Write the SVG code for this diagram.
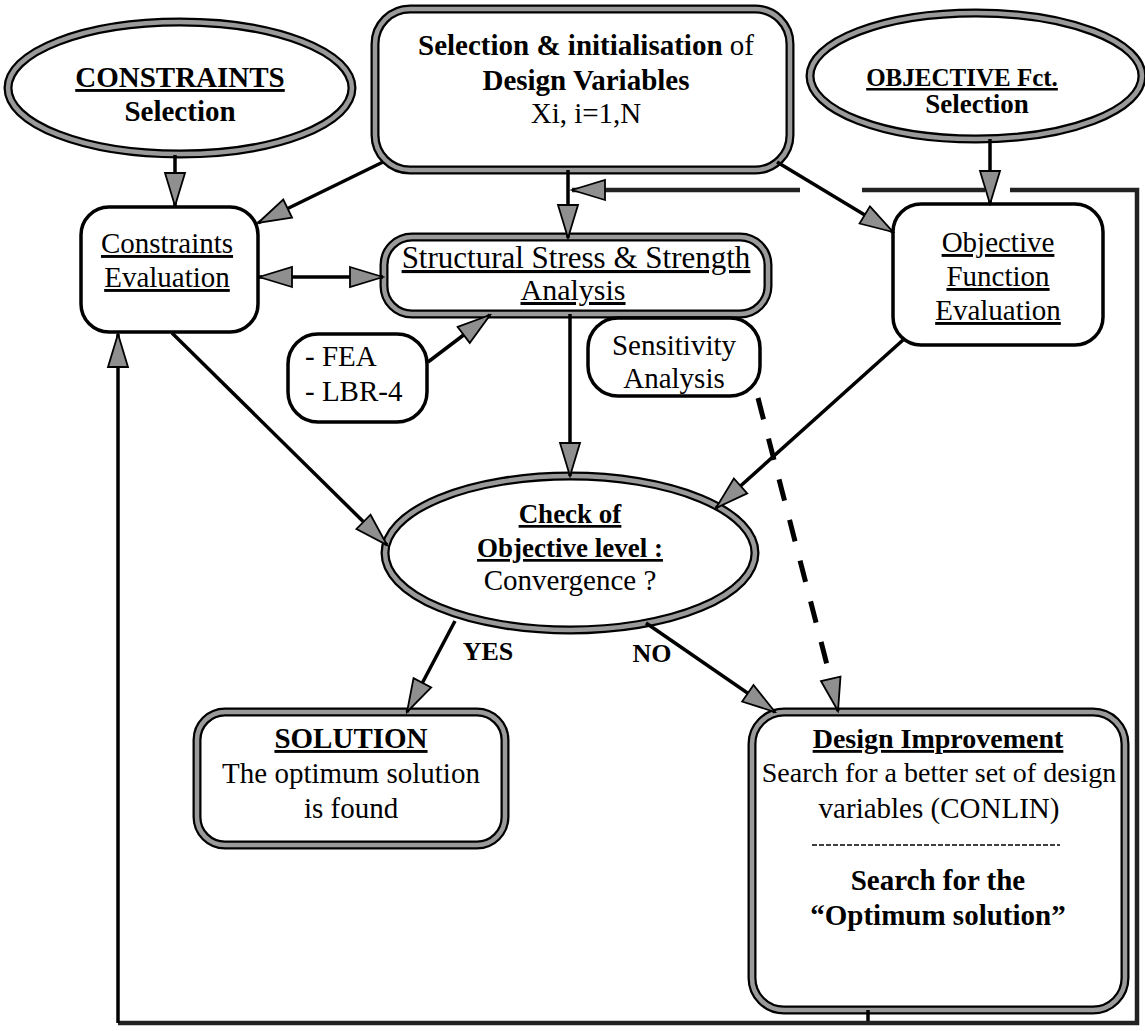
<svg xmlns="http://www.w3.org/2000/svg" width="1145" height="1031" viewBox="0 0 1145 1031">
  <style>
    .t { font-family: "Liberation Serif", "Times New Roman", serif; font-size: 29px; fill: #000; text-anchor: middle; }
    .b { font-weight: bold; }
    .u { text-decoration: underline; }
    .edge { fill: #fff; stroke: #000; stroke-width: 9; }
    .core { fill: none; stroke: #9a9a9a; stroke-width: 4.5; }
    .thin { fill: #fff; stroke: #000; stroke-width: 3.5; }
    .conn { fill: none; stroke: #000; stroke-width: 3.5; }
    .loop { fill: none; stroke: #222; stroke-width: 4.5; }
    .dash { fill: none; stroke: #000; stroke-width: 5; stroke-dasharray: 22 20; }
  </style>
  <defs>
    <marker id="arrow" viewBox="-2 -2 37 24" refX="33" refY="10" markerWidth="37" markerHeight="24" markerUnits="userSpaceOnUse" orient="auto-start-reverse">
      <path d="M0,0 L33,10 L0,20 Z" fill="#8f8f8f" stroke="#000" stroke-width="1.8" stroke-linejoin="miter"/>
    </marker>
  </defs>

  <rect width="1145" height="1031" fill="#fff"/>

  <!-- nodes -->
  <g id="constraints-selection">
    <ellipse class="edge" cx="180" cy="88" rx="172" ry="66"/>
    <ellipse class="core" cx="180" cy="88" rx="172" ry="66"/>
    <text class="t b u" x="180" y="87">CONSTRAINTS</text>
    <text class="t b" x="180" y="121">Selection</text>
  </g>

  <g id="design-variables">
    <rect class="edge" x="375" y="9" width="415" height="161" rx="35"/>
    <rect class="core" x="375" y="9" width="415" height="161" rx="35"/>
    <text class="t" x="586" y="55"><tspan class="b">Selection &amp; initialisation</tspan> of</text>
    <text class="t b" x="586" y="90">Design Variables</text>
    <text class="t" x="586" y="123">Xi, i=1,N</text>
  </g>

  <g id="objective-selection">
    <ellipse class="edge" cx="976" cy="76" rx="166" ry="63"/>
    <ellipse class="core" cx="976" cy="76" rx="166" ry="63"/>
    <text class="t b u" x="962" y="86" style="font-size:25px">OBJECTIVE Fct.</text>
    <text class="t b" x="977" y="113" style="font-size:27px">Selection</text>
  </g>

  <g id="constraints-evaluation">
    <rect class="thin" x="81" y="207" width="177" height="125" rx="28"/>
    <text class="t u" x="167" y="253">Constraints</text>
    <text class="t u" x="167" y="287">Evaluation</text>
  </g>

  <g id="objective-evaluation">
    <rect class="thin" x="893" y="204" width="210" height="141" rx="28"/>
    <text class="t u" x="998" y="252">Objective</text>
    <text class="t u" x="998" y="286">Function</text>
    <text class="t u" x="998" y="320">Evaluation</text>
  </g>

  <g id="structural-analysis">
    <rect class="edge" x="384" y="237" width="384" height="77" rx="28"/>
    <rect class="core" x="384" y="237" width="384" height="77" rx="28"/>
    <text class="t u" x="576" y="268" style="font-size:31px">Structural Stress &amp; Strength</text>
    <text class="t u" x="573" y="300" style="font-size:30px">Analysis</text>
  </g>

  <g id="fea-tools">
    <rect class="thin" x="288" y="334" width="139" height="88" rx="30"/>
    <text class="t" x="305" y="366" style="text-anchor:start">- FEA</text>
    <text class="t" x="305" y="401" style="text-anchor:start">- LBR-4</text>
  </g>

  <g id="sensitivity-analysis">
    <rect class="thin" x="588" y="318" width="172" height="78" rx="30"/>
    <text class="t" x="674" y="355">Sensitivity</text>
    <text class="t" x="674" y="388">Analysis</text>
  </g>

  <g id="convergence-check">
    <ellipse class="edge" cx="570" cy="553" rx="185" ry="77"/>
    <ellipse class="core" cx="570" cy="553" rx="185" ry="77"/>
    <text class="t b u" x="570" y="523" style="font-size:27px">Check of</text>
    <text class="t b u" x="570" y="557" style="font-size:27px">Objective level :</text>
    <text class="t" x="570" y="590">Convergence ?</text>
  </g>

  <g id="solution">
    <rect class="edge" x="197" y="712" width="308" height="133" rx="28"/>
    <rect class="core" x="197" y="712" width="308" height="133" rx="28"/>
    <text class="t b u" x="351" y="748">SOLUTION</text>
    <text class="t" x="351" y="783">The optimum solution</text>
    <text class="t" x="351" y="818">is found</text>
  </g>

  <g id="design-improvement">
    <rect class="edge" x="752" y="712" width="373" height="298" rx="32"/>
    <rect class="core" x="752" y="712" width="373" height="298" rx="32"/>
    <text class="t b u" x="938" y="748" style="font-size:28px">Design Improvement</text>
    <text class="t" x="939" y="782" style="font-size:28px">Search for a better set of design</text>
    <text class="t" x="939" y="818">variables (CONLIN)</text>
    <line x1="812" y1="845" x2="1060" y2="845" stroke="#000" stroke-width="1.5" stroke-dasharray="5 2"/>
    <text class="t b" x="938" y="890">Search for the</text>
    <text class="t b" x="938" y="925">“Optimum solution”</text>
  </g>

  <!-- connectors -->
  <g id="connectors">
    <line class="conn" x1="175" y1="155" x2="175" y2="206" marker-end="url(#arrow)"/>
    <line class="conn" x1="990" y1="139" x2="990" y2="204" marker-end="url(#arrow)"/>
    <line class="conn" x1="383" y1="162" x2="258" y2="223" marker-end="url(#arrow)"/>
    <line class="conn" x1="777" y1="162" x2="893" y2="232" marker-end="url(#arrow)"/>
    <line class="conn" x1="568" y1="170" x2="568" y2="238" marker-end="url(#arrow)"/>
    <line class="conn" x1="259" y1="277" x2="383" y2="277" marker-start="url(#arrow)" marker-end="url(#arrow)"/>
    <line class="conn" x1="428" y1="362" x2="490" y2="315" marker-end="url(#arrow)"/>
    <line class="conn" x1="570" y1="314" x2="570" y2="476" marker-end="url(#arrow)"/>
    <line class="conn" x1="172" y1="333" x2="387" y2="545" marker-end="url(#arrow)"/>
    <line class="conn" x1="903" y1="340" x2="716" y2="508" marker-end="url(#arrow)"/>
    <line class="dash" x1="758" y1="398" x2="833" y2="688"/>
    <line class="conn" x1="831" y1="680" x2="838" y2="711" marker-end="url(#arrow)"/>
    <line class="conn" x1="455" y1="621" x2="407" y2="712" marker-end="url(#arrow)"/>
    <line class="conn" x1="646" y1="623" x2="775" y2="712" marker-end="url(#arrow)"/>
    <text class="t b" x="488" y="660" style="font-size:26px">YES</text>
    <text class="t b" x="652" y="662" style="font-size:26px">NO</text>
    <!-- iteration loop back to the analysis -->
    <line class="conn" x1="868" y1="1010" x2="868" y2="1023"/>
    <polyline class="loop" points="118,1023 1137,1023 1137,190 1010,190"/>
    <line class="loop" x1="985" y1="190" x2="862" y2="190"/>
    <line class="loop" x1="800" y1="190" x2="572" y2="190" marker-end="url(#arrow)"/>
    <line class="conn" x1="118" y1="1023" x2="118" y2="334" marker-end="url(#arrow)"/>
  </g>
</svg>
